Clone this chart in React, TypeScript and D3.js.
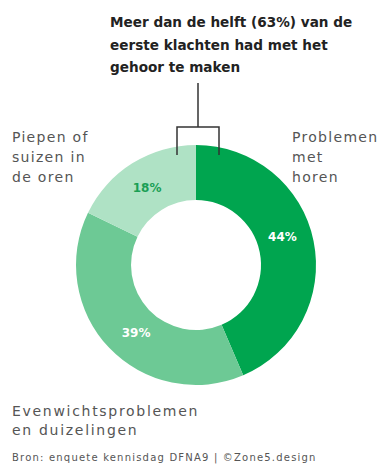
import React from "react";
import * as d3 from "d3";

const categories = ["Problemen met horen", "Evenwichtsproblemen en duizelingen", "Piepen of suizen in de oren"];
const values = [44, 39, 18];
const valueLabels = ["44%", "39%", "18%"];
const titleLines = ["Meer dan de helft (63%) van de", "eerste klachten had met het", "gehoor te maken"];
const leftLabel = ["Piepen of", "suizen in", "de oren"];
const rightLabel = ["Problemen", "met", "horen"];
const bottomLabel = ["Evenwichtsproblemen", "en duizelingen"];
const source = "Bron: enquete kennisdag DFNA9 | \u00a9Zone5.design";

const colors = ["#00a54f", "#6dc995", "#afe2c5"];
const labelColors = ["#ffffff", "#ffffff", "#1a9f55"];
const labelAngleNudge = [-0.115, -0.09, -0.007];

export default function App() {
  const W = 386, H = 466;
  const cx = 196, cy = 265, R = 120, r = 65;
  const pie = d3.pie<number>().sort(null).value(d => d);
  const arcs = pie(values);
  const arc = d3.arc<d3.PieArcDatum<number>>().innerRadius(r).outerRadius(R);
  const font = "'DejaVu Sans', sans-serif";
  const lr = 91;
  return (
    <svg width={W} height={H} style={{ position: "absolute", left: 0, top: 0, background: "#fff" }}>
      {titleLines.map((t, i) => (
        <text key={i} x={110} y={27 + i * 22.5} fontFamily={font} fontWeight={700} fontSize={13.6} fill="#222">{t}</text>
      ))}
      <g transform={`translate(${cx},${cy})`}>
        {arcs.map((a, i) => (
          <path key={i} d={arc(a) || ""} fill={colors[i]} />
        ))}
        {arcs.map((a, i) => {
          const ang = (a.startAngle + a.endAngle) / 2 + labelAngleNudge[i];
          const x = Math.sin(ang) * lr, y = -Math.cos(ang) * lr;
          return (
            <text key={i} x={x} y={y} textAnchor="middle" dominantBaseline="central" fontFamily={font} fontWeight={700} fontSize={12} fill={labelColors[i]}>{valueLabels[i]}</text>
          );
        })}
      </g>
      <path d="M198,83 V127 M177,155 V127 H219 V155" fill="none" stroke="#333" strokeWidth={1.5} />
      {leftLabel.map((t, i) => (
        <text key={"l" + i} x={12} y={142 + i * 20} fontFamily={font} fontWeight={400} fontSize={14} letterSpacing={1.3} fill="#555">{t}</text>
      ))}
      {rightLabel.map((t, i) => (
        <text key={"r" + i} x={292} y={142 + i * 20} fontFamily={font} fontWeight={400} fontSize={14} letterSpacing={1.3} fill="#555">{t}</text>
      ))}
      {bottomLabel.map((t, i) => (
        <text key={"b" + i} x={12} y={416 + i * 19} fontFamily={font} fontWeight={400} fontSize={14} letterSpacing={1.7} fill="#555">{t}</text>
      ))}
      <text x={12} y={461} fontFamily={font} fontWeight={400} fontSize={10} letterSpacing={1.2} fill="#555">{source}</text>
    </svg>
  );
}
